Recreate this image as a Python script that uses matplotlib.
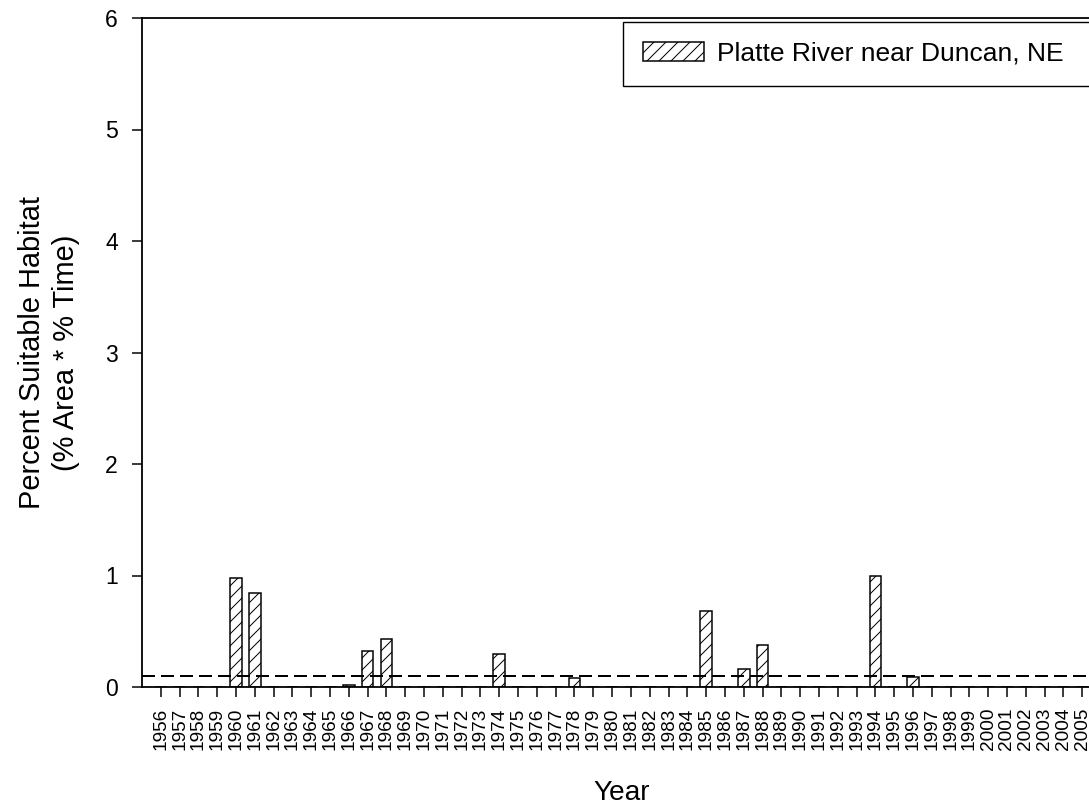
import matplotlib
matplotlib.use("Agg")
import matplotlib.pyplot as plt

plt.rcParams["font.family"] = ["Liberation Sans", "DejaVu Sans"]
plt.rcParams["hatch.linewidth"] = 0.5
plt.rcParams["hatch.color"] = "black"

# Percent suitable habitat per year, Platte River near Duncan, NE
years = list(range(1956, 2006))
habitat = [
    0.00, 0.00, 0.00, 0.00, 0.98, 0.84, 0.00, 0.00, 0.00, 0.00,  # 1956-1965
    0.02, 0.32, 0.43, 0.00, 0.00, 0.00, 0.00, 0.00, 0.30, 0.00,  # 1966-1975
    0.00, 0.00, 0.08, 0.00, 0.00, 0.00, 0.00, 0.00, 0.00, 0.68,  # 1976-1985
    0.00, 0.16, 0.38, 0.00, 0.00, 0.00, 0.00, 0.00, 1.00, 0.00,  # 1986-1995
    0.09, 0.00, 0.00, 0.00, 0.00, 0.00, 0.00, 0.00, 0.00, 0.00,  # 1996-2005
]
threshold = 0.1
series_label = "Platte River near Duncan, NE"
y_ticks = [0, 1, 2, 3, 4, 5, 6]

DPI = 144
W, H = 1089, 812
fig = plt.figure(figsize=(W / DPI, H / DPI), dpi=DPI)
fig.patch.set_facecolor("white")
ax = fig.add_axes([142 / W, 1 - 687 / H, (1101 - 142) / W, (687 - 18) / H])

ax.bar(years, habitat, width=0.62, facecolor="white", edgecolor="black",
       linewidth=0.75, hatch="////", label=series_label)
ax.axhline(threshold, color="black", lw=1.0, ls=(0, (6.5, 3)))

ax.set_xlim(1955, 2006)
ax.set_ylim(0, 6)
ax.set_yticks(y_ticks)
ax.set_xticks(years)
ax.set_xticklabels([str(y) for y in years], rotation=90, fontsize=9.5)
ax.tick_params(axis="x", direction="out", length=5, width=0.75, pad=5.5)
ax.tick_params(axis="y", direction="out", length=5, width=0.75, pad=7,
               labelsize=11.5)
for s in ax.spines.values():
    s.set_linewidth(0.9)

ax.set_ylabel("Percent Suitable Habitat\n(% Area * % Time)", fontsize=14.5,
              linespacing=1.25)
ax.yaxis.set_label_coords(-0.0647, 0.5)
ax.set_xlabel("Year", fontsize=14)
ax.xaxis.set_label_coords(0.5, -0.139)

leg = ax.legend(loc="upper left", mode="expand",
                bbox_to_anchor=(623 / W, 1 - 89 / H, (1096 - 623) / W, 67 / H),
                bbox_transform=fig.transFigure, borderaxespad=0,
                fontsize=13.2, fancybox=False, shadow=False, framealpha=1,
                borderpad=0.75, handlelength=2.3, handleheight=0.75,
                handletextpad=0.5)
leg.get_frame().set_edgecolor("black")
leg.get_frame().set_linewidth(0.7)

fig.savefig("out.png", dpi=DPI, facecolor="white")
